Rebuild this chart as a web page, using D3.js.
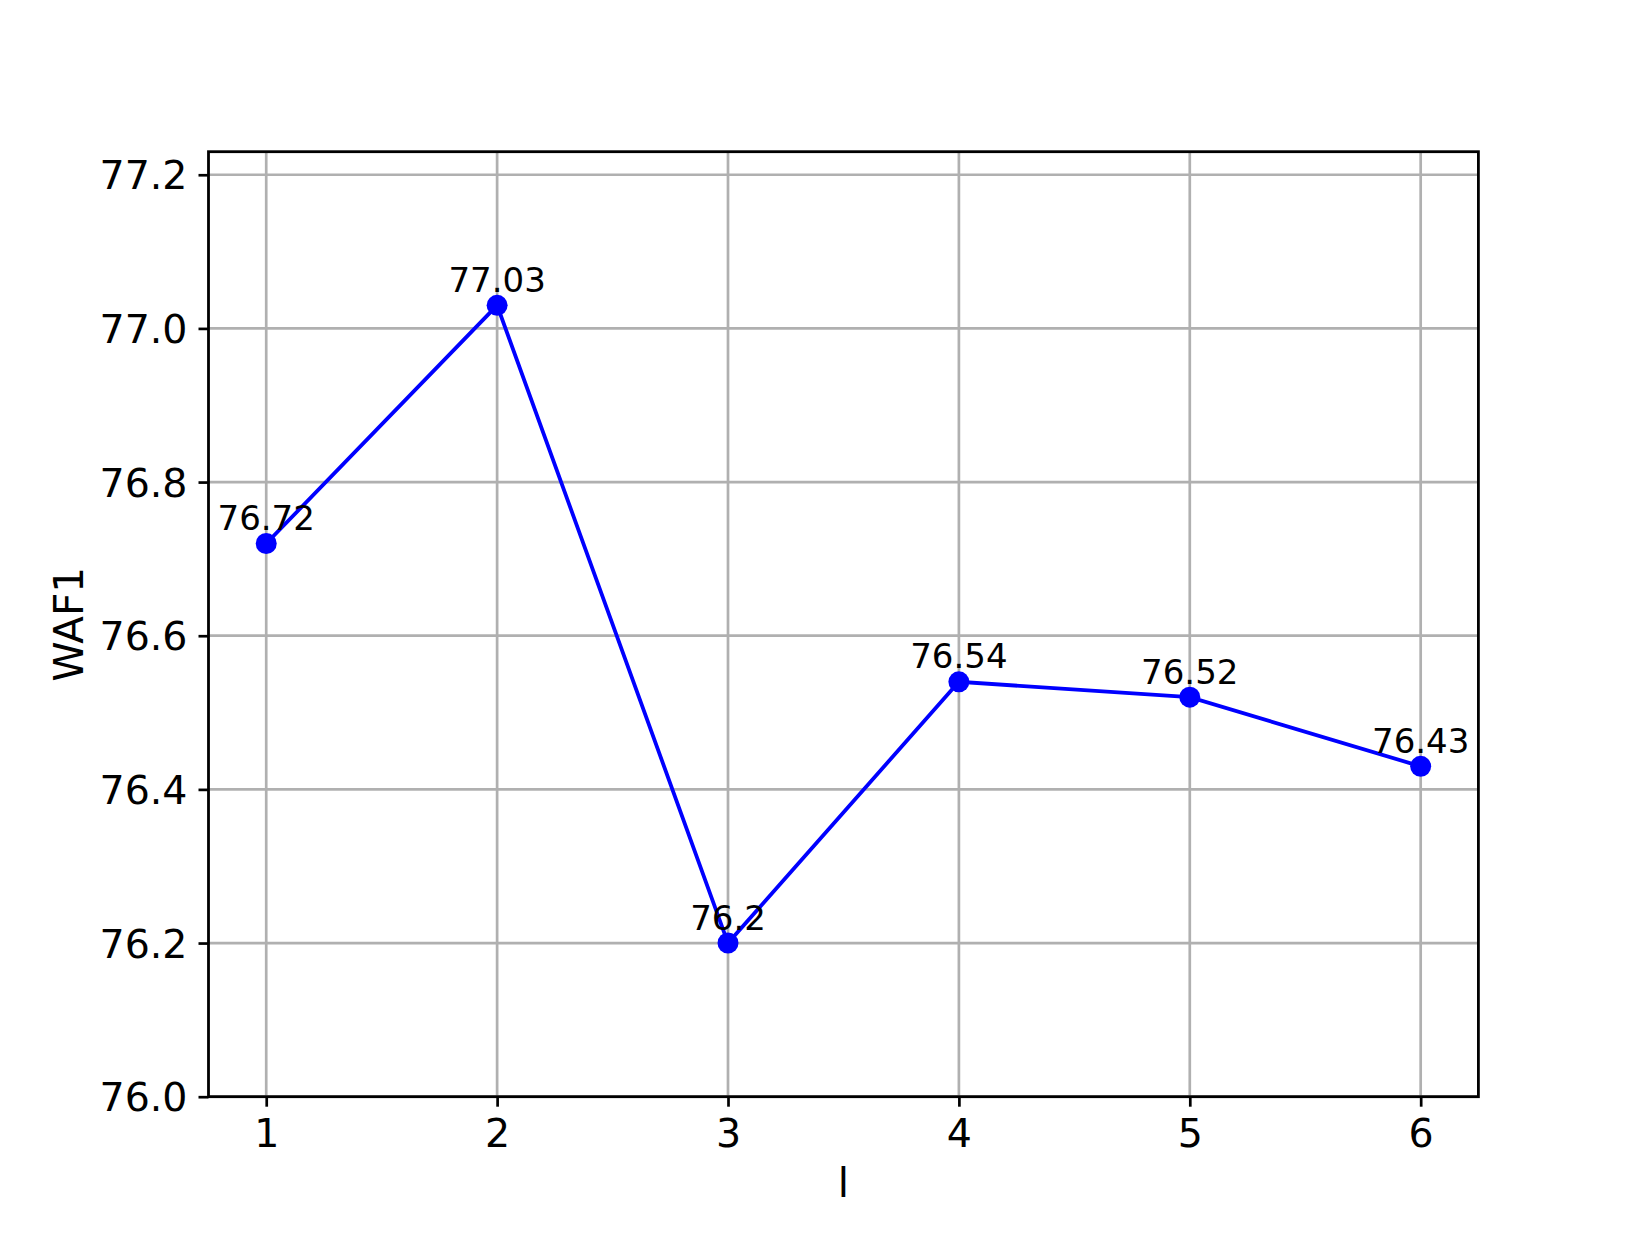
<!DOCTYPE html>
<html>
<head>
<meta charset="utf-8">
<script src="https://cdn.jsdelivr.net/npm/d3@7"></script>
<style>
  html, body { margin: 0; padding: 0; background: #fff; }
  svg { display: block; font-family: "DejaVu Sans", sans-serif; }
</style>
</head>
<body>
<svg id="chart" width="1643" height="1233"></svg>
<script>
const categories = [1, 2, 3, 4, 5, 6];
const values = [76.72, 77.03, 76.2, 76.54, 76.52, 76.43];
const pointLabels = ["76.72", "77.03", "76.2", "76.54", "76.52", "76.43"];
const yTicks = [76.0, 76.2, 76.4, 76.6, 76.8, 77.0, 77.2];
const xLabel = "l";
const yLabel = "WAF1";

const W = 1643, H = 1233;
const m = { left: 208.5, right: 1478.4, top: 151.7, bottom: 1096.7 };

const svg = d3.select("#chart");
const x = d3.scaleLinear().domain([0.75, 6.25]).range([m.left, m.right]);
const y = d3.scaleLinear().domain([76.0, 77.23]).range([m.bottom, m.top]);

// grid
const grid = svg.append("g");
grid.selectAll(".vg").data(categories).enter().append("line")
  .attr("x1", d => x(d)).attr("x2", d => x(d))
  .attr("y1", m.top).attr("y2", m.bottom)
  .attr("stroke", "#b0b0b0").attr("stroke-width", 2.7);
grid.selectAll(".hg").data(yTicks).enter().append("line")
  .attr("y1", d => y(d)).attr("y2", d => y(d))
  .attr("x1", m.left).attr("x2", m.right)
  .attr("stroke", "#b0b0b0").attr("stroke-width", 2.7);

// axes
const xAxis = d3.axisBottom(x).tickValues(categories).tickFormat(d3.format("d"))
  .tickSize(10).tickPadding(10);
const yAxis = d3.axisLeft(y).tickValues(yTicks).tickFormat(d3.format(".1f"))
  .tickSize(10).tickPadding(11);

const gx = svg.append("g").attr("transform", `translate(0,${m.bottom})`).call(xAxis);
const gy = svg.append("g").attr("transform", `translate(${m.left},0)`).call(yAxis);
[gx, gy].forEach(g => {
  g.select(".domain").remove();
  g.selectAll(".tick line").attr("stroke", "#000").attr("stroke-width", 2.7);
  g.selectAll(".tick text").attr("fill", "#000")
    .style("font-family", '"DejaVu Sans", sans-serif').style("font-size", "39.5px");
});
gx.selectAll(".tick text").attr("dy", null).attr("y", 50);
gy.selectAll(".tick text").attr("dy", "0.36em");

// line
const line = d3.line().x((d, i) => x(categories[i])).y(d => y(d));
svg.append("path").datum(values)
  .attr("d", line).attr("fill", "none")
  .attr("stroke", "#0000ff").attr("stroke-width", 3.8);

svg.selectAll(".dot").data(values).enter().append("circle")
  .attr("cx", (d, i) => x(categories[i])).attr("cy", d => y(d))
  .attr("r", 10.5).attr("fill", "#0000ff");

svg.selectAll(".lbl").data(values).enter().append("text")
  .attr("x", (d, i) => x(categories[i])).attr("y", d => y(d) - 13.5)
  .attr("text-anchor", "middle").style("font-size", "34px").attr("fill", "#000")
  .text((d, i) => pointLabels[i]);

// frame
svg.append("rect").attr("x", m.left).attr("y", m.top)
  .attr("width", m.right - m.left).attr("height", m.bottom - m.top)
  .attr("fill", "none").attr("stroke", "#000").attr("stroke-width", 2.8);

// axis labels
svg.append("text").attr("x", (m.left + m.right) / 2).attr("y", 1196.7)
  .attr("text-anchor", "middle").style("font-size", "40.5px").text(xLabel);
svg.append("text")
  .attr("transform", `translate(83,${(m.top + m.bottom) / 2}) rotate(-90)`)
  .attr("text-anchor", "middle").style("font-size", "40.5px").text(yLabel);
</script>
</body>
</html>
